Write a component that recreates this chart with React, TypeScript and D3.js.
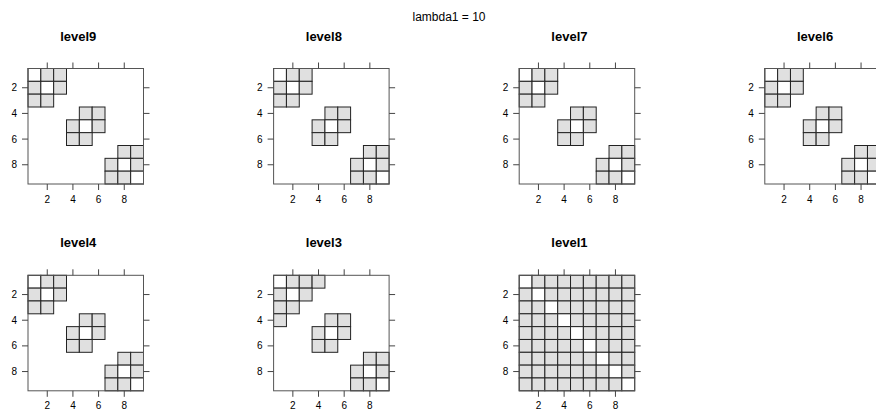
import * as d3 from "d3";

// cell values: 0 = empty, 1 = stored zero (white), 2 = non-zero (grey)
const blockRows = [
  [1, 2, 2, 0, 0, 0, 0, 0, 0],
  [2, 1, 2, 0, 0, 0, 0, 0, 0],
  [2, 2, 0, 0, 0, 0, 0, 0, 0],
  [0, 0, 0, 0, 2, 2, 0, 0, 0],
  [0, 0, 0, 2, 1, 2, 0, 0, 0],
  [0, 0, 0, 2, 2, 0, 0, 0, 0],
  [0, 0, 0, 0, 0, 0, 0, 2, 2],
  [0, 0, 0, 0, 0, 0, 2, 1, 2],
  [0, 0, 0, 0, 0, 0, 2, 2, 1],
];

const level3Rows = [
  [1, 2, 2, 2, 0, 0, 0, 0, 0],
  [2, 1, 2, 0, 0, 0, 0, 0, 0],
  [2, 2, 0, 0, 0, 0, 0, 0, 0],
  [2, 0, 0, 0, 2, 2, 0, 0, 0],
  [0, 0, 0, 2, 1, 2, 0, 0, 0],
  [0, 0, 0, 2, 2, 0, 0, 0, 0],
  [0, 0, 0, 0, 0, 0, 0, 2, 2],
  [0, 0, 0, 0, 0, 0, 2, 1, 2],
  [0, 0, 0, 0, 0, 0, 2, 2, 1],
];

const level1Rows = [
  [1, 2, 2, 2, 2, 2, 2, 2, 2],
  [2, 1, 2, 2, 2, 2, 2, 2, 2],
  [2, 2, 1, 2, 2, 2, 2, 2, 2],
  [2, 2, 2, 1, 2, 2, 2, 2, 2],
  [2, 2, 2, 2, 1, 2, 2, 2, 2],
  [2, 2, 2, 2, 2, 1, 2, 2, 2],
  [2, 2, 2, 2, 2, 2, 1, 2, 2],
  [2, 2, 2, 2, 2, 2, 2, 1, 2],
  [2, 2, 2, 2, 2, 2, 2, 2, 1],
];

const panelNames = ["level9", "level8", "level7", "level6", "level4", "level3", "level1"];
const panelData = [blockRows, blockRows, blockRows, blockRows, blockRows, level3Rows, level1Rows];
const ticks = [2, 4, 6, 8];
const mainTitle = "lambda1 = 10";

const width = 876;
const height = 410;
const nCols = 4;
const left0 = 28;
const top0 = 68.5;
const colStep = 245.6;
const rowStep = 206.8;
const size = 115.5;

function Panel({ name, rows, x0, y0 }: { name: string; rows: number[][]; x0: number; y0: number }) {
  const x = d3.scaleLinear().domain([0.5, 9.5]).range([x0, x0 + size]);
  const y = d3.scaleLinear().domain([0.5, 9.5]).range([y0, y0 + size]);
  const cw = x(1) - x(0);
  const cells: { r: number; c: number; v: number }[] = [];
  rows.forEach((row, i) =>
    row.forEach((v, j) => {
      if (v > 0) cells.push({ r: i + 1, c: j + 1, v });
    })
  );
  const font = "Liberation Sans, Arial, sans-serif";
  return (
    <g>
      <text
        x={x0 + size / 2 - 7.5}
        y={y0 - 28}
        textAnchor="middle"
        fontFamily={font}
        fontWeight="bold"
        fontSize={13}
        fill="#000"
      >
        {name}
      </text>
      <rect x={x0} y={y0} width={size} height={size} fill="#fff" />
      {cells.map((d, k) => (
        <rect
          key={k}
          x={x(d.c - 0.5)}
          y={y(d.r - 0.5)}
          width={cw}
          height={cw}
          fill={d.v === 2 ? "#e0e0e0" : "#ffffff"}
          stroke="#222"
          strokeWidth={1}
        />
      ))}
      <rect x={x0} y={y0} width={size} height={size} fill="none" stroke="#555" strokeWidth={1} />
      <g stroke="#444" strokeWidth={1}>
        {ticks.map((t) => (
          <g key={t}>
            <line x1={x(t)} x2={x(t)} y1={y0} y2={y0 - 6} />
            <line x1={x(t)} x2={x(t)} y1={y0 + size} y2={y0 + size + 6} />
            <line x1={x0} x2={x0 - 6} y1={y(t)} y2={y(t)} />
            <line x1={x0 + size} x2={x0 + size + 6} y1={y(t)} y2={y(t)} />
          </g>
        ))}
      </g>
      <g fontFamily={font} fontSize={10} fill="#000">
        {ticks.map((t) => (
          <text key={"b" + t} x={x(t)} y={y0 + size + 18.5} textAnchor="middle">
            {t}
          </text>
        ))}
        {ticks.map((t) => (
          <text key={"l" + t} x={x0 - 11} y={y(t)} dy="0.35em" textAnchor="end">
            {t}
          </text>
        ))}
      </g>
    </g>
  );
}

export default function App() {
  return (
    <svg
      width={width}
      height={height}
      style={{ position: "absolute", left: 0, top: 0, background: "#fff" }}
    >
      <text
        x={449}
        y={21}
        textAnchor="middle"
        fontFamily="Liberation Sans, Arial, sans-serif"
        fontSize={12}
        fill="#000"
      >
        {mainTitle}
      </text>
      {panelNames.map((name, i) => (
        <Panel
          key={name}
          name={name}
          rows={panelData[i]}
          x0={left0 + (i % nCols) * colStep}
          y0={top0 + Math.floor(i / nCols) * rowStep}
        />
      ))}
    </svg>
  );
}
